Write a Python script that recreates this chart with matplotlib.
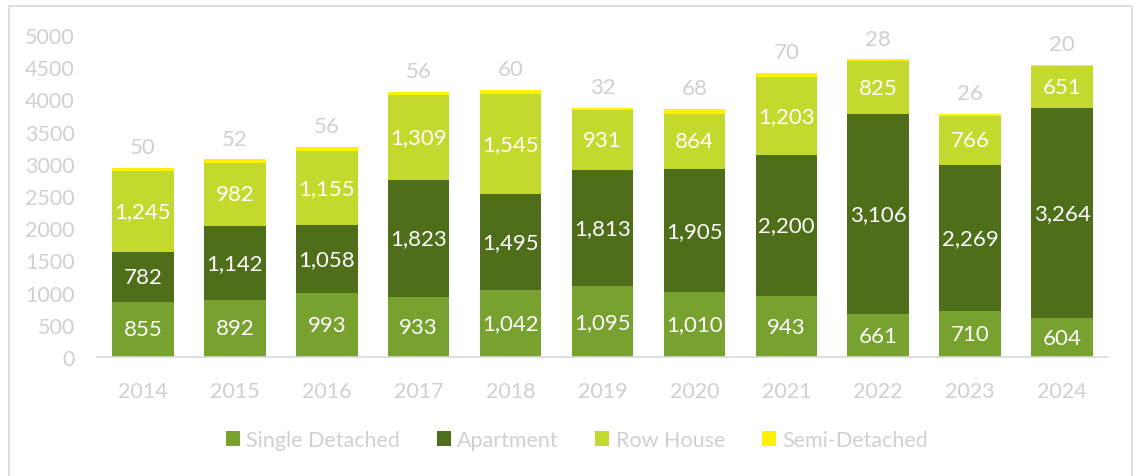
import matplotlib
matplotlib.use("Agg")
import matplotlib.pyplot as plt
from matplotlib.patches import Rectangle
import numpy as np

years = ["2014", "2015", "2016", "2017", "2018", "2019", "2020", "2021", "2022", "2023", "2024"]
single_detached = [855, 892, 993, 933, 1042, 1095, 1010, 943, 661, 710, 604]
apartment = [782, 1142, 1058, 1823, 1495, 1813, 1905, 2200, 3106, 2269, 3264]
row_house = [1245, 982, 1155, 1309, 1545, 931, 864, 1203, 825, 766, 651]
semi_detached = [50, 52, 56, 56, 60, 32, 68, 70, 28, 26, 20]
series_names = ["Single Detached", "Apartment", "Row House", "Semi-Detached"]
colors = ["#78A22F", "#4E6E1A", "#C3D92E", "#FFF200"]

plt.rcParams['font.family'] = ['Lato', 'DejaVu Sans']
W, H = 1137, 477
fig = plt.figure(figsize=(W / 100, H / 100), dpi=100)
fig.patches.append(Rectangle((9 / W, -0.05), (1132 - 9) / W, 1 - 7 / H + 0.05,
                             transform=fig.transFigure, fill=False,
                             edgecolor="#d9d9d9", linewidth=1.2, zorder=0))

ax = fig.add_axes([97 / W, 1 - 358 / H, (1108 - 97) / W, (358 - 36) / H])
x = np.arange(len(years))
width = 0.67
gray = "#cdd0d4"
fs_data = 16
fs = 15.5

data = [single_detached, apartment, row_house, semi_detached]
bottom = np.zeros(len(years))
for name, vals, col in zip(series_names, data, colors):
    vals = np.array(vals, dtype=float)
    ax.bar(x, vals, width, bottom=bottom, color=col, label=name, zorder=2)
    if name != "Semi-Detached":
        for xi, b, v in zip(x, bottom, vals):
            ax.text(xi, b + v / 2, f"{int(v):,}", ha="center", va="center",
                    color="white", fontsize=fs_data, zorder=3)
    else:
        for xi, b, v in zip(x, bottom, vals):
            ax.annotate(f"{int(v):,}", (xi, b + v), xytext=(0, 15),
                        textcoords="offset points", ha="center", va="center",
                        color=gray, fontsize=fs_data, annotation_clip=False)
    bottom += vals

ax.set_xlim(-0.5, len(years) - 0.5)
ax.set_ylim(0, 5000)
ax.set_yticks(np.arange(0, 5001, 500))
ax.set_xticks(x)
ax.set_xticklabels(years)
for s in ["top", "right", "left"]:
    ax.spines[s].set_visible(False)
ax.spines["bottom"].set_color("#d9d9d9")
ax.spines["bottom"].set_linewidth(1.2)
ax.tick_params(axis="both", length=0, colors=gray, labelsize=fs)
ax.tick_params(axis="y", pad=16)
ax.tick_params(axis="x", pad=17)

handles, labels = ax.get_legend_handles_labels()
leg = fig.legend(handles, labels, loc="center", ncol=4,
                 bbox_to_anchor=(577 / W, 1 - 441 / H), frameon=False,
                 fontsize=fs, handlelength=0.65, handleheight=0.65,
                 handletextpad=0.3, columnspacing=1.7)
for t in leg.get_texts():
    t.set_color(gray)

fig.savefig("out.png", dpi=100)
